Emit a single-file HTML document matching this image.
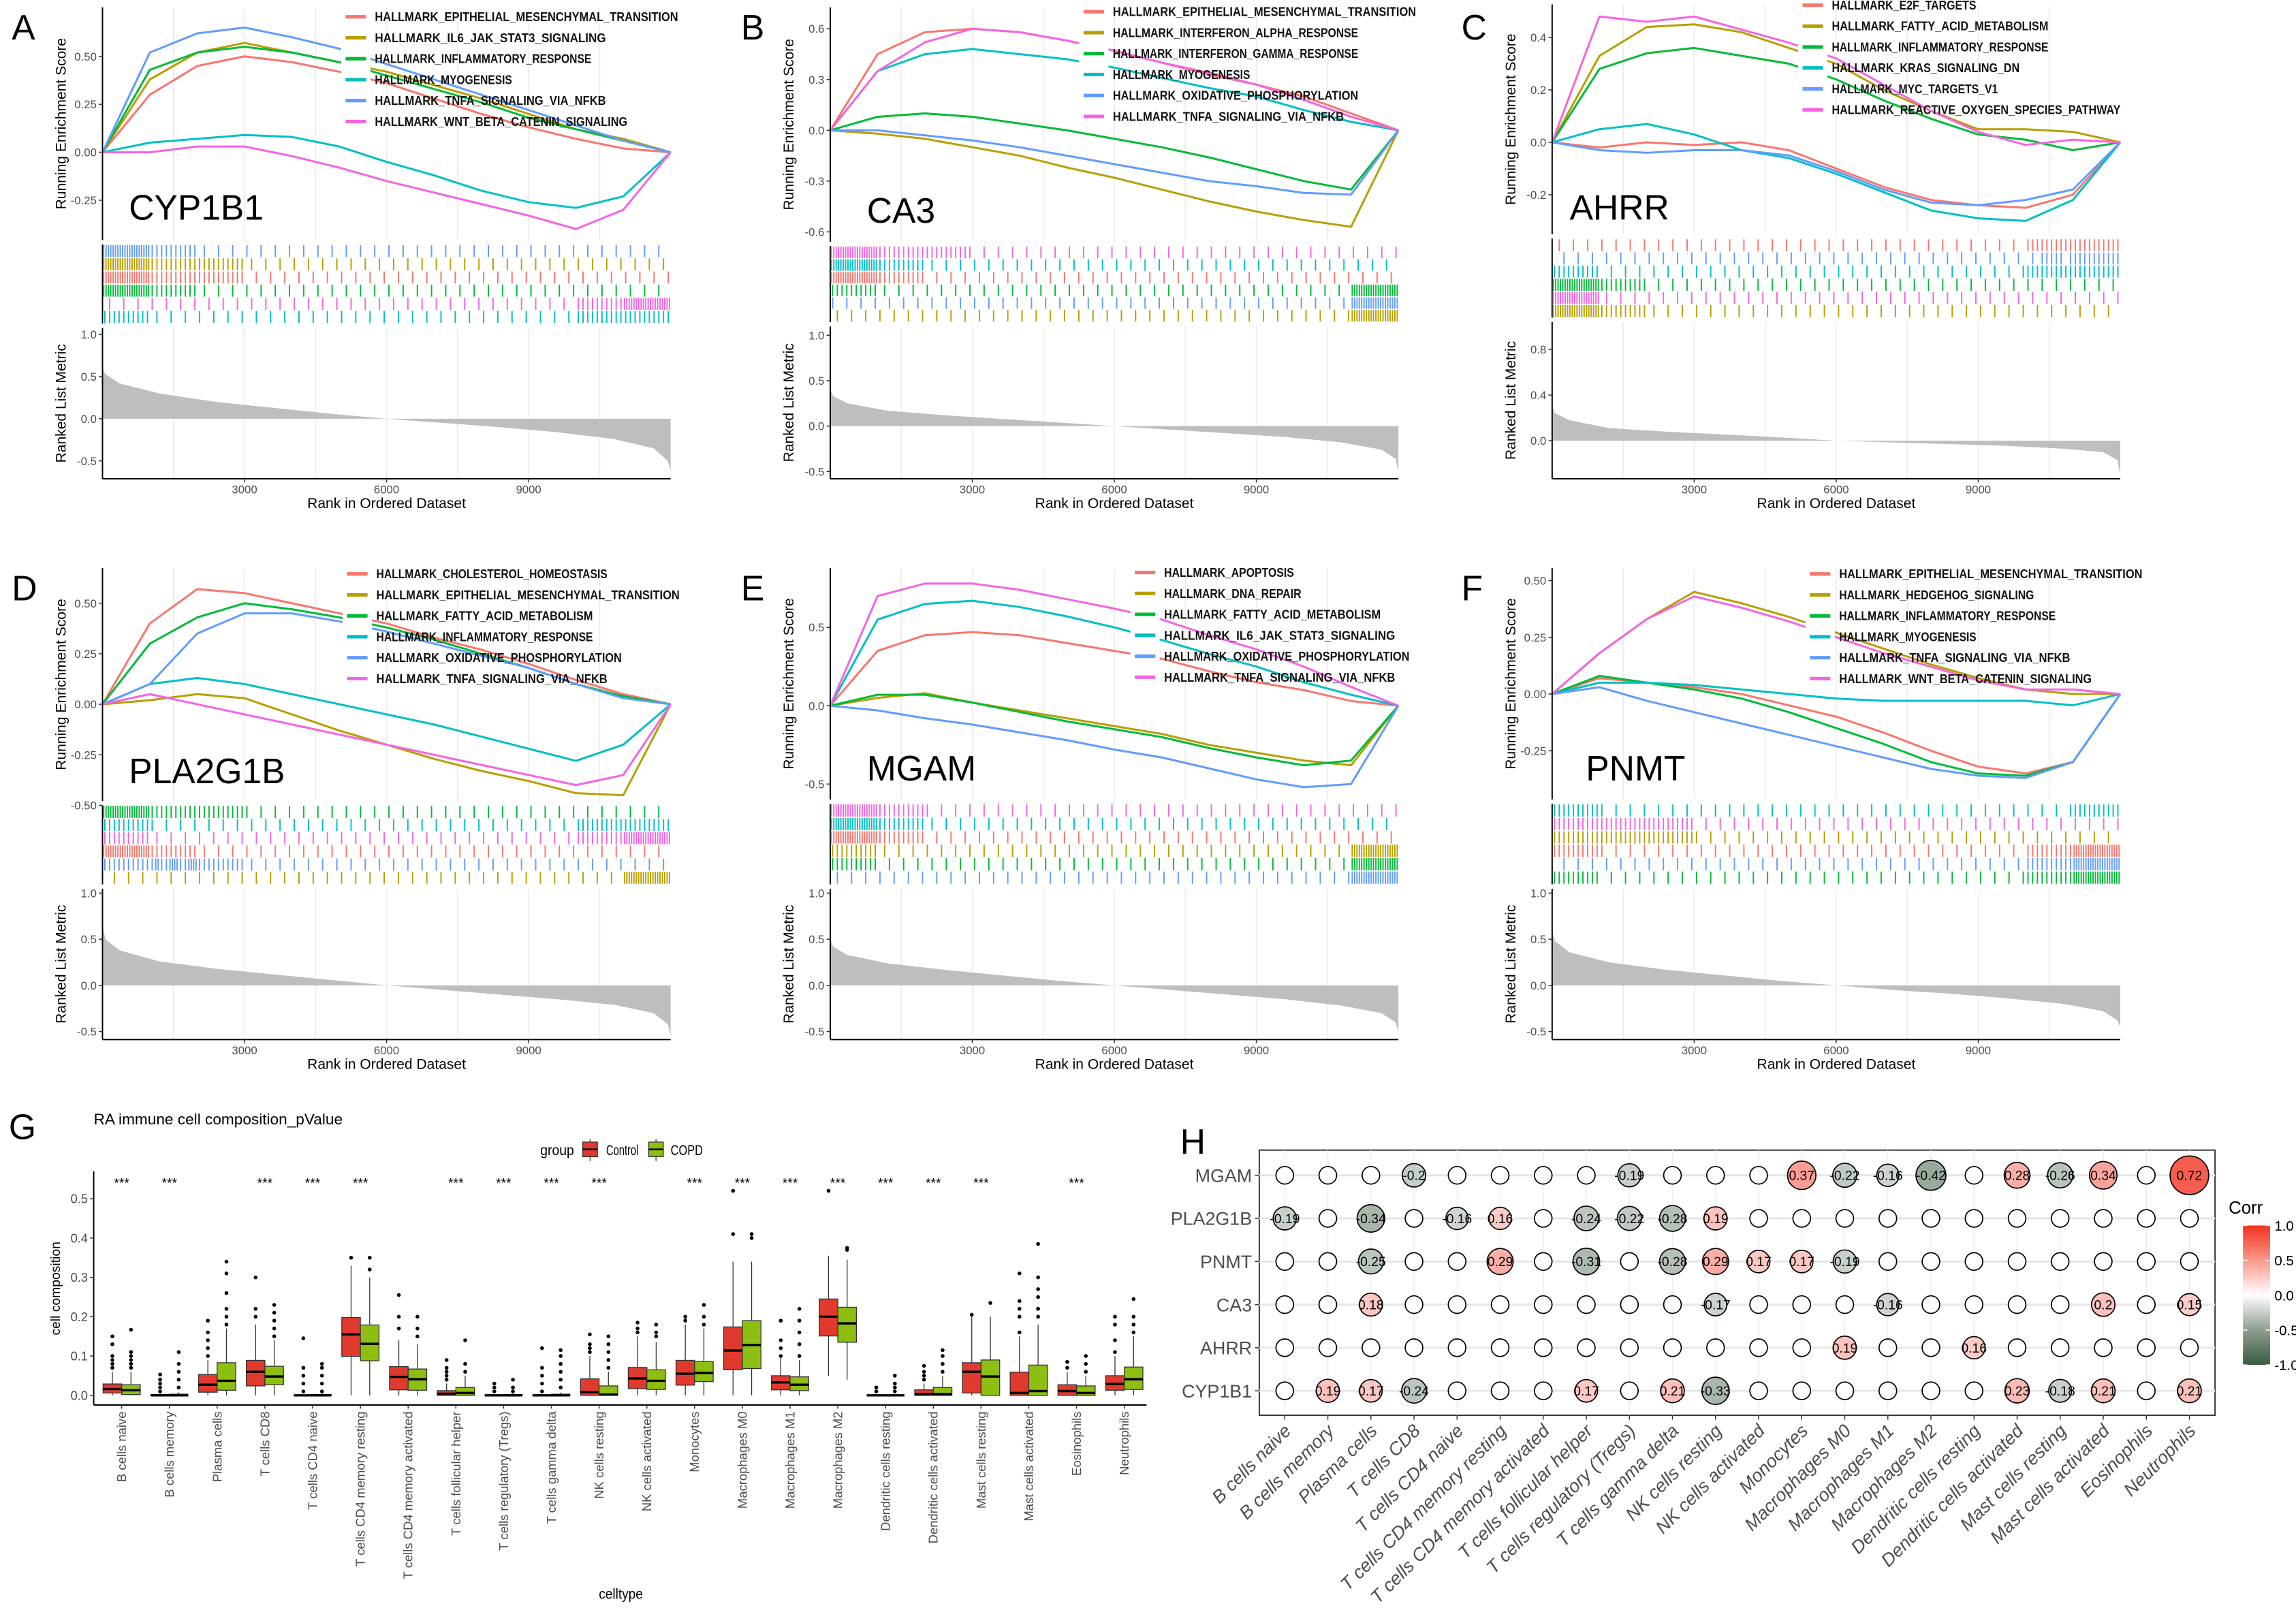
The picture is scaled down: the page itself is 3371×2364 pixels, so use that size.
<!DOCTYPE html>
<html><head><meta charset="utf-8">
<style>
html,body{margin:0;padding:0;background:#fff;}
svg{display:block;font-family:"Liberation Sans",Arial,sans-serif;}
</style></head>
<body>
<svg id="chart" xmlns="http://www.w3.org/2000/svg" width="3371" height="2364" viewBox="0 0 1568 1099.6" preserveAspectRatio="none">
<rect x="0" y="0" width="1568" height="1100" fill="#ffffff"/>
</svg>
<script>
// ===== GSEA data (ES values at ranks 0,1000,...,12000) =====
const rankSteps = [0,1000,2000,3000,4000,5000,6000,7000,8000,9000,10000,11000,12000];
const curvesA = [
 [0,0.3,0.45,0.5,0.47,0.42,0.36,0.28,0.2,0.13,0.07,0.02,0],
 [0,0.38,0.52,0.57,0.52,0.47,0.42,0.35,0.28,0.2,0.12,0.07,0],
 [0,0.43,0.52,0.55,0.52,0.47,0.4,0.33,0.26,0.18,0.12,0.06,0],
 [0,0.05,0.07,0.09,0.08,0.03,-0.05,-0.12,-0.2,-0.26,-0.29,-0.23,0],
 [0,0.52,0.62,0.65,0.6,0.54,0.46,0.38,0.3,0.22,0.14,0.06,0],
 [0,0.0,0.03,0.03,-0.02,-0.08,-0.15,-0.21,-0.27,-0.33,-0.4,-0.3,0]];
const curvesB = [
 [0,0.45,0.58,0.6,0.58,0.53,0.47,0.4,0.33,0.27,0.2,0.1,0],
 [0,-0.02,-0.05,-0.1,-0.15,-0.22,-0.28,-0.35,-0.42,-0.48,-0.53,-0.57,0],
 [0,0.08,0.1,0.08,0.04,0,-0.05,-0.1,-0.16,-0.23,-0.3,-0.35,0],
 [0,0.35,0.45,0.48,0.45,0.42,0.37,0.31,0.25,0.2,0.12,0.05,0],
 [0,0.0,-0.03,-0.06,-0.1,-0.15,-0.2,-0.25,-0.3,-0.33,-0.37,-0.38,0],
 [0,0.35,0.52,0.6,0.58,0.53,0.47,0.4,0.34,0.27,0.18,0.08,0]];
const curvesC = [
 [0,-0.02,0,-0.01,0,-0.03,-0.1,-0.17,-0.22,-0.24,-0.25,-0.2,0],
 [0,0.33,0.44,0.45,0.42,0.36,0.3,0.2,0.12,0.05,0.05,0.04,0],
 [0,0.28,0.34,0.36,0.33,0.3,0.24,0.16,0.09,0.03,0.01,-0.03,0],
 [0,0.05,0.07,0.03,-0.03,-0.06,-0.12,-0.19,-0.26,-0.29,-0.3,-0.22,0],
 [0,-0.03,-0.04,-0.03,-0.03,-0.05,-0.11,-0.18,-0.23,-0.24,-0.22,-0.18,0],
 [0,0.48,0.46,0.48,0.43,0.38,0.32,0.22,0.12,0.04,-0.01,0.01,0]];
const curvesD = [
 [0,0.4,0.57,0.55,0.5,0.45,0.4,0.33,0.27,0.2,0.12,0.05,0],
 [0,0.02,0.05,0.03,-0.05,-0.13,-0.2,-0.27,-0.33,-0.38,-0.44,-0.45,0],
 [0,0.3,0.43,0.5,0.47,0.43,0.38,0.32,0.25,0.18,0.1,0.04,0],
 [0,0.1,0.13,0.1,0.05,0,-0.05,-0.1,-0.16,-0.22,-0.28,-0.2,0],
 [0,0.1,0.35,0.45,0.45,0.41,0.36,0.3,0.24,0.18,0.1,0.03,0],
 [0,0.05,0.0,-0.05,-0.1,-0.15,-0.2,-0.25,-0.3,-0.35,-0.4,-0.35,0]];
const curvesE = [
 [0,0.35,0.45,0.47,0.45,0.4,0.35,0.3,0.22,0.15,0.1,0.03,0],
 [0,0.05,0.08,0.02,-0.03,-0.08,-0.13,-0.18,-0.25,-0.3,-0.35,-0.38,0],
 [0,0.07,0.07,0.02,-0.04,-0.1,-0.15,-0.2,-0.27,-0.33,-0.38,-0.35,0],
 [0,0.55,0.65,0.67,0.63,0.57,0.5,0.42,0.33,0.25,0.15,0.07,0],
 [0,-0.03,-0.08,-0.12,-0.17,-0.22,-0.28,-0.33,-0.4,-0.47,-0.52,-0.5,0],
 [0,0.7,0.78,0.78,0.74,0.68,0.62,0.55,0.45,0.36,0.25,0.12,0]];
const curvesF = [
 [0,0.07,0.05,0.03,0,-0.05,-0.1,-0.17,-0.25,-0.32,-0.35,-0.3,0],
 [0,0.18,0.33,0.45,0.4,0.34,0.27,0.2,0.13,0.07,0.02,0,0],
 [0,0.08,0.05,0.02,-0.02,-0.08,-0.15,-0.22,-0.3,-0.35,-0.36,-0.3,0],
 [0,0.05,0.05,0.04,0.02,0,-0.02,-0.03,-0.03,-0.03,-0.03,-0.05,0],
 [0,0.03,-0.03,-0.08,-0.13,-0.18,-0.23,-0.28,-0.33,-0.36,-0.37,-0.3,0],
 [0,0.18,0.33,0.43,0.38,0.32,0.25,0.18,0.12,0.06,0.02,0.02,0]];
const metricX = [0,0.005,0.03,0.1,0.2,0.3,0.4,0.5,0.6,0.7,0.8,0.9,0.97,0.995,1];
const metricA = [0.6,0.53,0.42,0.3,0.2,0.13,0.06,0,-0.05,-0.1,-0.16,-0.24,-0.35,-0.5,-0.62];
const metricB = [0.42,0.33,0.25,0.17,0.12,0.08,0.04,0,-0.04,-0.08,-0.12,-0.18,-0.26,-0.36,-0.5];
const metricC = [0.3,0.24,0.18,0.11,0.08,0.055,0.03,0,-0.015,-0.03,-0.045,-0.07,-0.1,-0.17,-0.3];
const metricD = [0.65,0.5,0.38,0.26,0.18,0.12,0.06,0,-0.05,-0.1,-0.15,-0.21,-0.3,-0.42,-0.55];
const metricE = [0.52,0.42,0.33,0.24,0.17,0.11,0.05,0,-0.05,-0.1,-0.15,-0.22,-0.3,-0.4,-0.5];
const metricF = [0.6,0.48,0.36,0.25,0.17,0.11,0.05,0,-0.05,-0.09,-0.14,-0.2,-0.28,-0.38,-0.45];
const namesA = ["HALLMARK_EPITHELIAL_MESENCHYMAL_TRANSITION","HALLMARK_IL6_JAK_STAT3_SIGNALING","HALLMARK_INFLAMMATORY_RESPONSE","HALLMARK_MYOGENESIS","HALLMARK_TNFA_SIGNALING_VIA_NFKB","HALLMARK_WNT_BETA_CATENIN_SIGNALING"];
const namesB = ["HALLMARK_EPITHELIAL_MESENCHYMAL_TRANSITION","HALLMARK_INTERFERON_ALPHA_RESPONSE","HALLMARK_INTERFERON_GAMMA_RESPONSE","HALLMARK_MYOGENESIS","HALLMARK_OXIDATIVE_PHOSPHORYLATION","HALLMARK_TNFA_SIGNALING_VIA_NFKB"];
const namesC = ["HALLMARK_E2F_TARGETS","HALLMARK_FATTY_ACID_METABOLISM","HALLMARK_INFLAMMATORY_RESPONSE","HALLMARK_KRAS_SIGNALING_DN","HALLMARK_MYC_TARGETS_V1","HALLMARK_REACTIVE_OXYGEN_SPECIES_PATHWAY"];
const namesD = ["HALLMARK_CHOLESTEROL_HOMEOSTASIS","HALLMARK_EPITHELIAL_MESENCHYMAL_TRANSITION","HALLMARK_FATTY_ACID_METABOLISM","HALLMARK_INFLAMMATORY_RESPONSE","HALLMARK_OXIDATIVE_PHOSPHORYLATION","HALLMARK_TNFA_SIGNALING_VIA_NFKB"];
const namesE = ["HALLMARK_APOPTOSIS","HALLMARK_DNA_REPAIR","HALLMARK_FATTY_ACID_METABOLISM","HALLMARK_IL6_JAK_STAT3_SIGNALING","HALLMARK_OXIDATIVE_PHOSPHORYLATION","HALLMARK_TNFA_SIGNALING_VIA_NFKB"];
const namesF = ["HALLMARK_EPITHELIAL_MESENCHYMAL_TRANSITION","HALLMARK_HEDGEHOG_SIGNALING","HALLMARK_INFLAMMATORY_RESPONSE","HALLMARK_MYOGENESIS","HALLMARK_TNFA_SIGNALING_VIA_NFKB","HALLMARK_WNT_BETA_CATENIN_SIGNALING"];
const rugOrderA = [4,1,0,2,5,3];
const rugOrderB = [5,3,0,2,4,1];
const rugOrderC = [0,4,3,2,5,1];
const rugOrderD = [2,3,5,0,4,1];
const rugOrderE = [5,3,0,1,2,4];
const rugOrderF = [3,5,1,0,4,2];
const xTickRanks = [3000,6000,9000];

// ===== Box plot data =====
const cellTypes = ["B cells naive","B cells memory","Plasma cells","T cells CD8","T cells CD4 naive","T cells CD4 memory resting","T cells CD4 memory activated","T cells follicular helper","T cells regulatory (Tregs)","T cells gamma delta","NK cells resting","NK cells activated","Monocytes","Macrophages M0","Macrophages M1","Macrophages M2","Dendritic cells resting","Dendritic cells activated","Mast cells resting","Mast cells activated","Eosinophils","Neutrophils"];
const ctrlMed = [.016,0,.027,.06,0,.155,.047,.004,0,0,.008,.043,.055,.114,.033,.2,0,.003,.06,.006,.011,.029];
const ctrlQ1  = [.006,0,.008,.024,0,.099,.014,0,0,0,0,.017,.026,.065,.014,.151,0,0,.006,0,0,.013];
const ctrlQ3  = [.029,.002,.053,.089,.001,.198,.073,.012,.001,.001,.042,.071,.089,.174,.05,.245,.001,.014,.083,.059,.027,.05];
const ctrlLo  = [0,0,0,0,0,0,0,0,0,0,0,0,0,0,0,.05,0,0,0,0,0,0];
const ctrlHi  = [.06,.004,.09,.18,.002,.33,.14,.03,.002,.002,.1,.15,.18,.34,.095,.355,.002,.03,.2,.15,.06,.1];
const ctrlOut = [[.07,.08,.09,.1,.13,.15],[.01,.02,.03,.04,.053],[.1,.12,.14,.16,.19],[.2,.22,.3],[.01,.03,.05,.07,.145],[.35],[.17,.2,.255],[.04,.05,.06,.07,.09],[.01,.02,.03],[.01,.03,.05,.07,.12],[.11,.12,.13,.155],[.16,.17,.185],[.19,.2],[.41,.52],[.1,.12,.14,.19],[.52],[.01,.02],[.04,.05,.06,.075],[.205],[.16,.2,.22,.24,.31],[.07,.085],[.11,.14,.18,.2]];
const copdMed = [.013,0,.037,.048,0,.131,.041,.006,0,0,.002,.037,.057,.128,.027,.183,0,.003,.048,.011,.006,.041];
const copdQ1  = [.002,0,.013,.027,0,.088,.013,0,0,0,0,.015,.035,.068,.012,.135,0,0,0,0,0,.015];
const copdQ3  = [.027,.003,.083,.074,.002,.179,.067,.02,.002,.003,.024,.065,.086,.19,.047,.224,.001,.02,.09,.077,.024,.072];
const copdLo  = [0,0,0,0,0,0,0,0,0,0,0,0,0,0,0,.04,0,0,0,0,0,0];
const copdHi  = [.06,.008,.17,.14,.005,.3,.13,.05,.005,.007,.06,.135,.17,.34,.09,.345,.003,.05,.2,.18,.05,.15];
const copdOut = [[.07,.08,.09,.1,.11,.167],[.02,.04,.06,.08,.11],[.18,.2,.22,.26,.31,.34],[.15,.17,.19,.21,.23],[.01,.03,.05,.07,.08],[.32,.35],[.15,.17,.2],[.06,.08,.14],[.01,.02,.04],[.02,.04,.06,.08,.1,.115],[.07,.09,.11,.13,.15],[.15,.16,.18],[.18,.2,.23],[.4,.41],[.1,.13,.16,.19,.22],[.37,.375],[.01,.02,.03,.05],[.06,.08,.1,.115],[.235],[.2,.22,.25,.27,.3,.385],[.06,.08,.1],[.16,.18,.2,.245]];
const starCats = [0,1,3,4,5,7,8,9,10,12,13,14,15,16,17,18,20];
const boxYTicks = [0,0.1,0.2,0.3,0.4,0.5];

// ===== Correlation data =====
const genes = ["MGAM","PLA2G1B","PNMT","CA3","AHRR","CYP1B1"];
const corrMGAM    = [0,0,0,-0.2,0,0,0,0,-0.19,0,0,0,0.37,-0.22,-0.16,-0.42,0,0.28,-0.26,0.34,0,0.72];
const corrPLA2G1B = [-0.19,0,-0.34,0,-0.16,0.16,0,-0.24,-0.22,-0.28,0.19,0,0,0,0,0,0,0,0,0,0,0];
const corrPNMT    = [0,0,-0.25,0,0,0.29,0,-0.31,0,-0.28,0.29,0.17,0.17,-0.19,0,0,0,0,0,0,0,0];
const corrCA3     = [0,0,0.18,0,0,0,0,0,0,0,-0.17,0,0,0,-0.16,0,0,0,0,0.2,0,0.15];
const corrAHRR    = [0,0,0,0,0,0,0,0,0,0,0,0,0,0.19,0,0,0.16,0,0,0,0,0];
const corrCYP1B1  = [0,0.19,0.17,-0.24,0,0,0,0.17,0,0.21,-0.33,0,0,0,0,0,0,0.23,-0.18,0.21,0,0.21];
const corrTicks = [1.0,0.5,0.0,-0.5,-1.0];

const NS = "http://www.w3.org/2000/svg";
const svg = document.getElementById('chart');
const COLS = ["#F8766D","#B79F00","#00BA38","#00BFC4","#619CFF","#F564E3"];
function mk(tag, attrs, parent){
  const e = document.createElementNS(NS, tag);
  for (const k in attrs) e.setAttribute(k, attrs[k]);
  (parent || svg).appendChild(e);
  return e;
}
function interpEq(arr, t){ const n=arr.length-1; const f=Math.max(0,Math.min(n,t*n)); const i=Math.min(n-1,Math.floor(f)); return arr[i]+(arr[i+1]-arr[i])*(f-i); }
function fmt(v,d){ return v.toFixed(d); }

const layout = [
 {letter:"A",lx:8,ly:27,left:70,top:5,esZero:104,esScale:131,esTicks:[0.5,0.25,0,-0.25],esDec:2,rugTop:167,rugBot:221,metTop:224,metBot:327,metZero:286,metScale:57.6,metTicks:[1,0.5,0,-0.5],legX:236,legY:11.5,geneX:88,geneY:150},
 {letter:"B",lx:506,ly:27,left:567,top:5,esZero:89,esScale:115.6,esTicks:[0.6,0.3,0,-0.3,-0.6],esDec:1,rugTop:168,rugBot:220,metTop:223,metBot:327,metZero:291,metScale:62,metTicks:[1,0.5,0,-0.5],legX:740,legY:8,geneX:592,geneY:152},
 {letter:"C",lx:998,ly:27,left:1060,top:3,esZero:97.2,esScale:179,esTicks:[0.4,0.2,0,-0.2],esDec:1,rugTop:163,rugBot:217,metTop:220,metBot:327,metZero:301,metScale:78,metTicks:[0.8,0.4,0],legX:1231,legY:3.5,geneX:1072,geneY:150},
 {letter:"D",lx:8,ly:410,left:70,top:388,esZero:481,esScale:138,esTicks:[0.5,0.25,0,-0.25,-0.5],esDec:2,rugTop:550,rugBot:604,metTop:607,metBot:710,metZero:673,metScale:63,metTicks:[1,0.5,0,-0.5],legX:237,legY:392,geneX:88,geneY:535},
 {letter:"E",lx:506,ly:410,left:567,top:388,esZero:482,esScale:107,esTicks:[0.5,0,-0.5],esDec:1,rugTop:549,rugBot:604,metTop:607,metBot:710,metZero:673,metScale:63,metTicks:[1,0.5,0,-0.5],legX:775,legY:391,geneX:592,geneY:533},
 {letter:"F",lx:998,ly:410,left:1060,top:388,esZero:474,esScale:155,esTicks:[0.5,0.25,0,-0.25],esDec:2,rugTop:549,rugBot:604,metTop:607,metBot:710,metZero:673,metScale:63,metTicks:[1,0.5,0,-0.5],legX:1236,legY:392,geneX:1083,geneY:533}
];
const panelCurves = [curvesA,curvesB,curvesC,curvesD,curvesE,curvesF];
const panelMetric = [metricA,metricB,metricC,metricD,metricE,metricF];
const panelNames = [namesA,namesB,namesC,namesD,namesE,namesF];
const panelGenes = ["CYP1B1","CA3","AHRR","PLA2G1B","MGAM","PNMT"];
const panelRug = [rugOrderA,rugOrderB,rugOrderC,rugOrderD,rugOrderE,rugOrderF];

function drawGsea(idx){
  const L = layout[idx], curves = panelCurves[idx], metric = panelMetric[idx];
  const W = 388, maxRank = 12000;
  const g = mk('g',{});
  
  
  const xOf = r => L.left + r*W/maxRank;
  const esY = v => L.esZero - v*L.esScale;
  const mY = v => L.metZero - v*L.metScale;
  const esBot = L.rugTop - 3;
  const lt = mk('text',{x:L.lx,y:L.ly,'font-size':24,fill:'#000'},g); lt.textContent=L.letter;
  
  
  for(let k=1;k<=7;k++){
    const x = xOf(1500*k);
    const gl = mk('line',{x1:x,x2:x,y1:L.top,y2:esBot,stroke:'#ebebeb','stroke-width':0.7},g);
    
    
    const gl2 = mk('line',{x1:x,x2:x,y1:L.metTop,y2:L.metBot,stroke:'#ebebeb','stroke-width':0.7},g);
    
    
  }
  let pts = [xOf(0)+','+mY(0)];
  for(let i=0;i<metricX.length;i++) pts.push(xOf(metricX[i]*maxRank)+','+mY(metric[i]));
  pts.push(xOf(maxRank)+','+mY(0));
  const area = mk('polygon',{points:pts.join(' '),fill:'#bebebe',stroke:'none'},g);
  
  
  curves.forEach((c,ci)=>{
    const p = c.map((v,i)=>xOf(rankSteps[i])+','+esY(v)).join(' ');
    const pl = mk('polyline',{points:p,fill:'none',stroke:COLS[ci],'stroke-width':1.4,'stroke-linejoin':'round'},g);
    
    
  });
  const a1 = mk('line',{x1:L.left,x2:L.left,y1:L.top,y2:esBot,stroke:'#000','stroke-width':0.9},g);
   
  const a2 = mk('line',{x1:L.left,x2:L.left,y1:L.rugTop,y2:L.rugBot,stroke:'#000','stroke-width':0.9},g);
   
  const a3 = mk('line',{x1:L.left,x2:L.left,y1:L.metTop,y2:L.metBot,stroke:'#000','stroke-width':0.9},g);
   
  const a4 = mk('line',{x1:L.left,x2:L.left+W,y1:L.metBot,y2:L.metBot,stroke:'#000','stroke-width':0.9},g);
   
  L.esTicks.forEach(v=>{
    const y = esY(v);
    const tk = mk('line',{x1:L.left-2.5,x2:L.left,y1:y,y2:y,stroke:'#333','stroke-width':0.7},g);
     
    const tl = mk('text',{x:L.left-4,y:y+2.8,'font-size':7.8,fill:'#4d4d4d','text-anchor':'end'},g);
    tl.textContent = fmt(v,L.esDec);
     
  });
  L.metTicks.forEach(v=>{
    const y = mY(v);
    const tk = mk('line',{x1:L.left-2.5,x2:L.left,y1:y,y2:y,stroke:'#333','stroke-width':0.7},g);
     
    const tl = mk('text',{x:L.left-4,y:y+2.8,'font-size':7.8,fill:'#4d4d4d','text-anchor':'end'},g);
    tl.textContent = v.toFixed(1);
     
  });
  xTickRanks.forEach(r=>{
    const x = xOf(r);
    const tk = mk('line',{x1:x,x2:x,y1:L.metBot,y2:L.metBot+2.5,stroke:'#333','stroke-width':0.7},g);
     
    const tl = mk('text',{x:x,y:L.metBot+10,'font-size':7.8,fill:'#4d4d4d','text-anchor':'middle'},g);
    tl.textContent = String(r);
     
  });
  const xt = mk('text',{x:L.left+W/2,y:L.metBot+20,'font-size':9.8,fill:'#000','text-anchor':'middle'},g);
  xt.textContent='Rank in Ordered Dataset';
   
  const ycx = L.left-25, ycy=(L.top+esBot)/2;
  const yt = mk('text',{x:ycx,y:ycy,'font-size':9.8,fill:'#000','text-anchor':'middle',transform:'rotate(-90 '+ycx+' '+ycy+')'},g);
  yt.textContent='Running Enrichment Score';
   
  const mcy=(L.metTop+L.metBot)/2;
  const yt2 = mk('text',{x:ycx,y:mcy,'font-size':9.8,fill:'#000','text-anchor':'middle',transform:'rotate(-90 '+ycx+' '+mcy+')'},g);
  yt2.textContent='Ranked List Metric';
   
  // rug
  const rowH = (L.rugBot-L.rugTop)/6;
  panelRug[idx].forEach((ci,row)=>{
    const c = curves[ci];
    const y1 = L.rugTop + row*rowH + 0.4, y2 = L.rugTop + (row+1)*rowH - 0.4;
    const rg = mk('g',{stroke:COLS[ci],'stroke-width':0.9},g);
    
    
    const bins = 120;
    for(let b=0;b<bins;b++){
      const s = interpEq(c,(b+1)/bins)-interpEq(c,b/bins);
      let n = s>0.004 ? Math.min(2, Math.ceil(s*40)) : 0;
      if(n===0 && (b*7+row*5+idx)%3===0) n = 1;
      for(let k=0;k<n;k++){
        const x = xOf((b+(k+0.5)/n)*maxRank/bins);
        const tk = mk('line',{x1:x,x2:x,y1:y1,y2:y2},rg);
        
        
      }
    }
  });
  // legend
  const names = panelNames[idx];
  const bg = mk('rect',{x:L.legX-3,y:L.legY-6,width:20,height:6*14.3,fill:'#fff'},g);
   
  names.forEach((nm,i)=>{
    const y = L.legY + i*14.3;
    const ll = mk('line',{x1:L.legX,x2:L.legX+14,y1:y,y2:y,stroke:COLS[i],'stroke-width':2.4},g);
     
    const tx = mk('text',{x:L.legX+20,y:y+3,'font-size':8.4,'font-weight':'bold',fill:'#111',textLength:(nm.length*4.93).toFixed(1),lengthAdjust:'spacingAndGlyphs'},g);
    tx.textContent = nm;
     
  });
  const gt = mk('text',{x:L.geneX,y:L.geneY,'font-size':24,fill:'#000'},g);
  gt.textContent = panelGenes[idx];
   
}
for(let i=0;i<6;i++) drawGsea(i);

// ===== Panel G: boxplot =====
(function(){
  const g = mk('g',{});
   
  const y0 = 953, perUnit = 268.6, axL = 64, axR = 783, axB = 959.6, axT = 800;
  const yOf = v => y0 - v*perUnit;
  const x0 = 83.1, dx = (767.8-83.1)/21, bw = 12.7;
  const lt = mk('text',{x:6,y:778,'font-size':24,fill:'#000'},g); lt.textContent='G';
   
  const tt = mk('text',{x:64,y:768,'font-size':10.5,fill:'#000',textLength:170,lengthAdjust:'spacingAndGlyphs'},g); tt.textContent='RA immune cell composition_pValue';
   
  const lg = mk('text',{x:369,y:789,'font-size':10,fill:'#000',textLength:23,lengthAdjust:'spacingAndGlyphs'},g); lg.textContent='group';
   
  [["Control","#E03A2F",398,414,22],["COPD","#8DBF12",443,458,22]].forEach(([nm,col,kx,tx,tl])=>{
    const kl = mk('line',{x1:kx+5,x2:kx+5,y1:778,y2:793,stroke:'#333','stroke-width':0.6},g);
     
    const kr = mk('rect',{x:kx,y:780,width:10,height:10,fill:col,stroke:'#333','stroke-width':0.6},g);
     
    const km = mk('line',{x1:kx,x2:kx+10,y1:785,y2:785,stroke:'#000','stroke-width':1.2},g);
     
    const t = mk('text',{x:tx,y:789,'font-size':10,fill:'#000',textLength:tl,lengthAdjust:'spacingAndGlyphs'},g); t.textContent=nm;
     
  });
  const ya = mk('line',{x1:axL,x2:axL,y1:axT,y2:axB,stroke:'#000','stroke-width':0.9},g);
   
  const xa = mk('line',{x1:axL,x2:axR,y1:axB,y2:axB,stroke:'#000','stroke-width':0.9},g);
   
  boxYTicks.forEach(v=>{
    const y=yOf(v);
    const tk = mk('line',{x1:axL-2.5,x2:axL,y1:y,y2:y,stroke:'#333','stroke-width':0.7},g);
     
    const tl = mk('text',{x:axL-4,y:y+3,'font-size':8.5,fill:'#4d4d4d','text-anchor':'end'},g); tl.textContent=v.toFixed(1);
     
  });
  const yt = mk('text',{x:41,y:880,'font-size':9,fill:'#000','text-anchor':'middle',transform:'rotate(-90 41 880)'},g); yt.textContent='cell composition';
   
  const xt = mk('text',{x:424,y:1092,'font-size':10,fill:'#000','text-anchor':'middle',textLength:30,lengthAdjust:'spacingAndGlyphs'},g); xt.textContent='celltype';
   
  function box(cx,med,q1,q3,lo,hi,outs,col,name){
    const bg = mk('g',{},g);
     
    const w = mk('line',{x1:cx,x2:cx,y1:yOf(hi),y2:yOf(lo),stroke:'#333','stroke-width':0.6},bg);
     
    const r = mk('rect',{x:cx-bw/2,y:yOf(q3),width:bw,height:Math.max(0.6,yOf(q1)-yOf(q3)),fill:col,stroke:'#333','stroke-width':0.6},bg);
     
    const m = mk('line',{x1:cx-bw/2,x2:cx+bw/2,y1:yOf(med),y2:yOf(med),stroke:'#000','stroke-width':1.6},bg);
     
    outs.forEach(o=>{
      const d = mk('circle',{cx:cx,cy:yOf(o),r:1.3,fill:'#000'},bg);
       
    });
  }
  cellTypes.forEach((ct,i)=>{
    const cx = x0 + i*dx;
    box(cx-bw/2,ctrlMed[i],ctrlQ1[i],ctrlQ3[i],ctrlLo[i],ctrlHi[i],ctrlOut[i],'#E03A2F','box-control-'+i);
    box(cx+bw/2,copdMed[i],copdQ1[i],copdQ3[i],copdLo[i],copdHi[i],copdOut[i],'#8DBF12','box-copd-'+i);
    const tk = mk('line',{x1:cx,x2:cx,y1:axB,y2:axB+2.5,stroke:'#333','stroke-width':0.7},g);
     
    const ly = 964;
    const tl = mk('text',{x:cx+3,y:ly,'font-size':8.6,fill:'#4d4d4d','text-anchor':'end',transform:'rotate(-90 '+(cx+3)+' '+ly+')'},g);
    tl.textContent = ct;
     
  });
  starCats.forEach(i=>{
    const s = mk('text',{x:x0+i*dx,y:811,'font-size':9,fill:'#000','text-anchor':'middle'},g); s.textContent='***';
     
  });
})();

// ===== Panel H: correlation dot plot =====
(function(){
  const g = mk('g',{});
   
  const corrRows = [corrMGAM,corrPLA2G1B,corrPNMT,corrCA3,corrAHRR,corrCYP1B1];
  const fx=860, fr=1512.7, ft=785.5, fb=966.6;
  const cx0=877.4, cdx=(1495.2-877.4)/21, ry0=802.7, rdy=(949.9-802.7)/5;
  const colX = i => cx0 + i*cdx, rowY = j => ry0 + j*rdy;
  const lt = mk('text',{x:806,y:788,'font-size':24,fill:'#000'},g); lt.textContent='H';
   
  const fr1 = mk('rect',{x:fx,y:ft,width:fr-fx,height:fb-ft,fill:'#fff',stroke:'#333','stroke-width':0.9},g);
   
  for(let i=0;i<22;i++){
    const l = mk('line',{x1:colX(i),x2:colX(i),y1:ft,y2:fb,stroke:'#ebebeb','stroke-width':0.6},g);
     
  }
  for(let j=0;j<6;j++){
    const l = mk('line',{x1:fx,x2:fr,y1:rowY(j),y2:rowY(j),stroke:'#e6e6e6','stroke-width':1.4},g);
     
  }
  function colr(v){
    const t = Math.pow(Math.abs(v),0.75);
    const c = v>=0 ? [244,48,30] : [59,90,65];
    const m = c.map(k=>Math.round(255+(k-255)*t));
    return 'rgb('+m.join(',')+')';
  }
  genes.forEach((gn,j)=>{
    const y = rowY(j);
    const tk = mk('line',{x1:fx-3,x2:fx,y1:y,y2:y,stroke:'#333','stroke-width':0.7},g);
     
    const tl = mk('text',{x:fx-5,y:y+4.5,'font-size':12.5,fill:'#4d4d4d','text-anchor':'end'},g); tl.textContent=gn;
     
    corrRows[j].forEach((v,i)=>{
      const x = colX(i);
      const c = mk('circle',{cx:x,cy:y,r:(6+Math.abs(v)*10).toFixed(2),fill:v===0?'#fff':colr(v),stroke:'#000','stroke-width':0.8},g);
       
      if(v!==0){
        const t = mk('text',{x:x,y:y+3.2,'font-size':9,fill:'#000','text-anchor':'middle'},g);
        t.textContent = String(v);
         
      }
    });
  });
  cellTypes.forEach((ct,i)=>{
    const x = colX(i);
    const tk = mk('line',{x1:x,x2:x,y1:fb,y2:fb+3,stroke:'#333','stroke-width':0.7},g);
     
    const lx = x+5, ly = 978;
    const tl = mk('text',{x:lx,y:ly,'font-size':12.5,'font-style':'italic',fill:'#4d4d4d','text-anchor':'end',transform:'rotate(-45 '+lx+' '+ly+')'},g);
    tl.textContent = ct;
     
  });
  const defs = mk('defs',{},svg);
  const grad = mk('linearGradient',{id:'corrGrad',x1:0,y1:0,x2:0,y2:1},defs);
  [[0,'#F4301E'],[0.25,'#F8998C'],[0.5,'#FFFFFF'],[0.75,'#8E9D90'],[1,'#3B5A41']].forEach(([o,c])=>{ mk('stop',{offset:o,'stop-color':c},grad); });
  const cbTop=837, cbBot=932.2, cbX=1531.8, cbW=18.5;
  const ct = mk('text',{x:1522,y:829,'font-size':12,fill:'#000'},g); ct.textContent='Corr';
   
  const cb = mk('rect',{x:cbX,y:cbTop,width:cbW,height:cbBot-cbTop,fill:'url(#corrGrad)'},g);
   
  corrTicks.forEach(v=>{
    const y = cbTop + (1-v)/2*(cbBot-cbTop);
    const l1 = mk('line',{x1:cbX,x2:cbX+3,y1:y,y2:y,stroke:'#fff','stroke-width':0.7},g);
     
    const l2 = mk('line',{x1:cbX+cbW-3,x2:cbX+cbW,y1:y,y2:y,stroke:'#fff','stroke-width':0.7},g);
     
    const t = mk('text',{x:cbX+cbW+3,y:y+3.5,'font-size':9.5,fill:'#000'},g); t.textContent=v.toFixed(1);
     
  });
})();
</script>
</body></html>
